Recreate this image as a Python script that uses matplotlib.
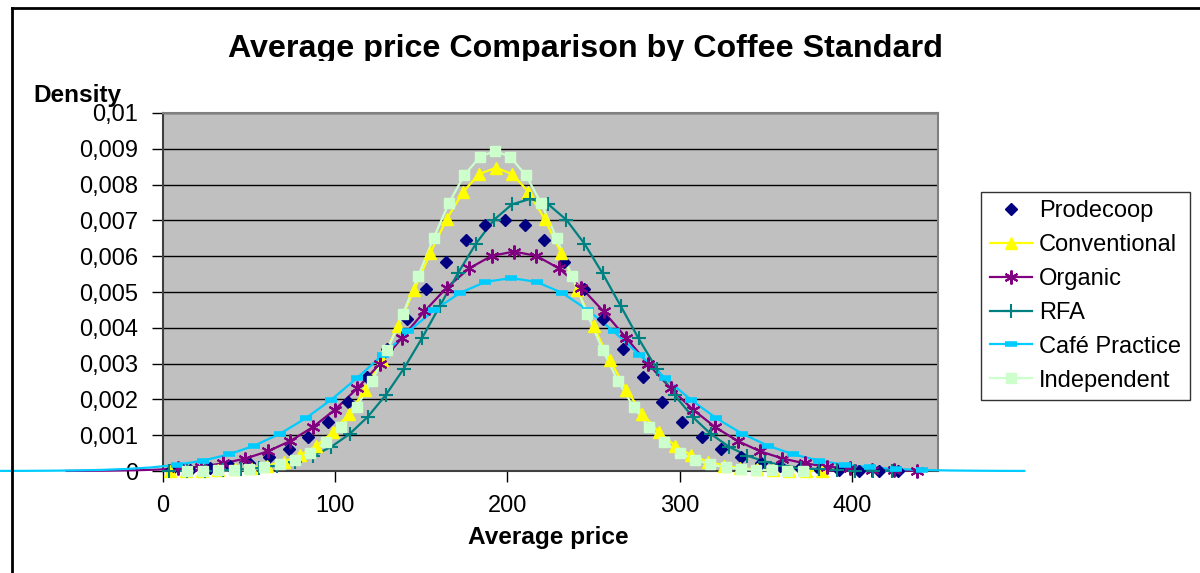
import numpy as np
import matplotlib.pyplot as plt
from matplotlib.lines import Line2D
from matplotlib.patches import Rectangle

plt.rcParams['font.family'] = ['Liberation Sans', 'DejaVu Sans']

TITLE = "Average price Comparison by Coffee Standard"
X_LABEL = "Average price"
Y_LABEL = "Density"

X_TICKS = [0, 100, 200, 300, 400]
Y_TICKS = [0, 0.001, 0.002, 0.003, 0.004, 0.005, 0.006, 0.007, 0.008, 0.009, 0.01]
Y_TICK_LABELS = ["0", "0,001", "0,002", "0,003", "0,004", "0,005",
                 "0,006", "0,007", "0,008", "0,009", "0,01"]

# values (price, density)
prodecoop_x = [4.5, 15.9, 27.3, 38.7, 50.1, 61.6, 73.0, 84.4, 95.8, 107.2, 118.7, 130.1,
               141.5, 152.9, 164.3, 175.8, 187.2, 198.6, 210.0, 221.4, 232.9, 244.3, 255.7,
               267.1, 278.5, 290.0, 301.4, 312.8, 324.2, 335.6, 347.1, 358.5, 369.9, 381.3,
               392.7, 404.2, 415.6, 427.0]
prodecoop_y = [0.000021, 0.000041, 0.000077, 0.000137, 0.000236, 0.000389, 0.000617,
               0.000941, 0.001378, 0.001938, 0.002618, 0.003399, 0.004238, 0.005078,
               0.005844, 0.006460, 0.006861, 0.007000, 0.006861, 0.006460, 0.005844,
               0.005078, 0.004238, 0.003399, 0.002618, 0.001938, 0.001378, 0.000941,
               0.000617, 0.000389, 0.000236, 0.000137, 0.000077, 0.000041, 0.000021,
               0.000011, 0.000005, 0.000002]

conventional_x = [3.8, 13.3, 22.7, 32.2, 41.7, 51.2, 60.6, 70.1, 79.6, 89.0, 98.5, 108.0,
                  117.4, 126.9, 136.4, 145.9, 155.3, 164.8, 174.3, 183.7, 193.2, 202.7,
                  212.1, 221.6, 231.1, 240.6, 250.0, 259.5, 269.0, 278.4, 287.9, 297.4,
                  306.8, 316.3, 325.8, 335.3, 344.7, 354.2, 363.7, 373.1, 382.6]
conventional_y = [0.000002, 0.000005, 0.000011, 0.000022, 0.000044, 0.000083, 0.000151,
                  0.000262, 0.000439, 0.000704, 0.001084, 0.001602, 0.002273, 0.003093,
                  0.004040, 0.005066, 0.006096, 0.007040, 0.007801, 0.008298, 0.008470,
                  0.008298, 0.007801, 0.007040, 0.006096, 0.005066, 0.004040, 0.003093,
                  0.002273, 0.001602, 0.001084, 0.000704, 0.000439, 0.000262, 0.000151,
                  0.000083, 0.000044, 0.000022, 0.000011, 0.000005, 0.000002]

organic_x = [-56.0, -43.0, -30.0, -17.0, -4.0, 8.9, 21.9, 34.9, 47.9, 60.9, 73.9, 86.9,
             99.9, 112.9, 125.9, 138.9, 151.8, 164.8, 177.8, 190.8, 203.8, 216.8, 229.8,
             242.8, 255.8, 268.8, 281.7, 294.7, 307.7, 320.7, 333.7, 346.7, 359.7, 372.7,
             385.7, 398.7, 411.6, 424.6, 437.6]
organic_y = [0.000002, 0.000005, 0.000010, 0.000019, 0.000038, 0.000070, 0.000124,
             0.000212, 0.000349, 0.000551, 0.000837, 0.001223, 0.001715, 0.002312,
             0.002994, 0.003727, 0.004458, 0.005125, 0.005661, 0.006009, 0.006130,
             0.006009, 0.005661, 0.005125, 0.004458, 0.003727, 0.002994, 0.002312,
             0.001715, 0.001223, 0.000837, 0.000551, 0.000349, 0.000212, 0.000124,
             0.000070, 0.000038, 0.000019, 0.000010]

rfa_x = [3.4, 13.9, 24.4, 34.9, 45.4, 55.9, 66.3, 76.8, 87.3, 97.8, 108.3, 118.8, 129.3,
         139.8, 150.3, 160.8, 171.2, 181.7, 192.2, 202.7, 213.2, 223.7, 234.2, 244.7,
         255.2, 265.7, 276.1, 286.6, 297.1, 307.6, 318.1, 328.6, 339.1, 349.6, 360.1,
         370.6, 381.0, 391.5, 402.0, 412.5, 423.0]
rfa_y = [0.000003, 0.000006, 0.000012, 0.000024, 0.000046, 0.000085, 0.000152, 0.000261,
         0.000429, 0.000679, 0.001033, 0.001509, 0.002119, 0.002858, 0.003705, 0.004614,
         0.005522, 0.006351, 0.007017, 0.007450, 0.007600, 0.007450, 0.007017, 0.006351,
         0.005522, 0.004614, 0.003705, 0.002858, 0.002119, 0.001509, 0.001033, 0.000679,
         0.000429, 0.000261, 0.000152, 0.000085, 0.000046, 0.000024, 0.000012, 0.000006,
         0.000003]

cafe_x = [-95.9, -81.0, -66.1, -51.2, -36.3, -21.4, -6.5, 8.4, 23.3, 38.2, 53.1, 68.0,
          82.9, 97.8, 112.7, 127.6, 142.5, 157.4, 172.3, 187.2, 202.1, 217.0, 231.9,
          246.8, 261.7, 276.6, 291.5, 306.4, 321.3, 336.2, 351.1, 366.0, 380.9, 395.8,
          410.7, 425.6, 440.5, 455.4, 470.3, 485.2, 500.1]
cafe_y = [0.000002, 0.000004, 0.000008, 0.000015, 0.000030, 0.000056, 0.000101, 0.000175,
          0.000291, 0.000464, 0.000710, 0.001044, 0.001473, 0.001996, 0.002598, 0.003248,
          0.003897, 0.004491, 0.004970, 0.005282, 0.005390, 0.005282, 0.004970, 0.004491,
          0.003897, 0.003248, 0.002598, 0.001996, 0.001473, 0.001044, 0.000710, 0.000464,
          0.000291, 0.000175, 0.000101, 0.000056, 0.000030, 0.000015, 0.000008, 0.000004,
          0.000002]

independent_x = [14.2, 23.1, 32.1, 41.0, 49.9, 58.9, 67.8, 76.7, 85.6, 94.6, 103.5, 112.4,
                 121.4, 130.3, 139.2, 148.2, 157.1, 166.0, 174.9, 183.9, 192.8, 201.7,
                 210.7, 219.6, 228.5, 237.5, 246.4, 255.3, 264.2, 273.2, 282.1, 291.0,
                 300.0, 308.9, 317.8, 326.8, 335.7, 344.6, 353.5, 362.5, 371.4]
independent_y = [0.000003, 0.000007, 0.000014, 0.000029, 0.000055, 0.000102, 0.000182,
                 0.000312, 0.000512, 0.000809, 0.001227, 0.001790, 0.002508, 0.003379,
                 0.004375, 0.005444, 0.006509, 0.007481, 0.008262, 0.008769, 0.008945,
                 0.008769, 0.008262, 0.007481, 0.006509, 0.005444, 0.004375, 0.003379,
                 0.002508, 0.001790, 0.001227, 0.000809, 0.000512, 0.000312, 0.000182,
                 0.000102, 0.000055, 0.000029, 0.000014, 0.000007, 0.000003]

# label, x, y, colour, marker, marker size, marker edge width, draw line
SERIES = [
    ("Prodecoop",     prodecoop_x,    prodecoop_y,    "#000080", "D",       6.5, 1.0, False),
    ("Conventional",  conventional_x, conventional_y, "#FFFF00", "^",       8.5, 1.0, True),
    ("Organic",       organic_x,      organic_y,      "#800080", (6, 2, 0), 10,  1.5, True),
    ("RFA",           rfa_x,          rfa_y,          "#008080", "+",       10,  1.5, True),
    ("Café Practice", cafe_x,         cafe_y,         "#00CCFF", "_",       9,   4.0, True),
    ("Independent",   independent_x,  independent_y,  "#CCFFCC", "s",       7,   1.0, True),
]

X_MAX = 450
FS = 17

fig = plt.figure(figsize=(12, 5.73), dpi=100)
ax = fig.add_axes([163 / 1200, 1 - 471 / 573, 775 / 1200, 358 / 573])
ax.set_facecolor("#C0C0C0")

handles = []
for label, xs, ys, col, mk, ms, mew, with_line in SERIES:
    xs = np.asarray(xs)
    ys = np.asarray(ys)
    if with_line:
        # excel draws the lines past the plot area, markers only inside it
        ax.plot(xs, ys, color=col, lw=1.6, clip_on=False, zorder=3)
    inside = (xs >= 0) & (xs <= X_MAX)
    ax.plot(xs[inside], ys[inside], linestyle="none", marker=mk, ms=ms, mew=mew,
            color=col, mfc=col, mec=col, clip_on=False, zorder=4)
    handles.append(Line2D([], [], color=col, lw=1.6 if with_line else 0,
                          linestyle="-" if with_line else "none",
                          marker=mk, ms=ms, mew=mew, mfc=col, mec=col))

ax.set_xlim(0, X_MAX)
ax.set_ylim(0, 0.01)
ax.set_xticks(X_TICKS)
ax.set_xticklabels([str(t) for t in X_TICKS])
ax.set_yticks(Y_TICKS)
ax.set_yticklabels(Y_TICK_LABELS)
ax.tick_params(axis="both", direction="out", length=8, width=1, color="black",
               labelsize=FS)
ax.tick_params(axis="y", pad=10)
ax.tick_params(axis="x", pad=9)
ax.grid(axis="y", color="black", lw=1)
ax.set_axisbelow(True)
for side in ("top", "right"):
    ax.spines[side].set_color("#808080")
    ax.spines[side].set_linewidth(1.5)
for side in ("left", "bottom"):
    ax.spines[side].set_color("#404040")
    ax.spines[side].set_linewidth(1.5)

ax.set_xlabel(X_LABEL, fontsize=17.6, fontweight="bold")
ax.xaxis.set_label_coords(0.497, -0.155)

fig.text(33 / 1200, 1 - 102 / 573, Y_LABEL, fontsize=17.6, fontweight="bold",
         ha="left", va="baseline")
fig.text(585 / 1200, 1 - 57 / 573, TITLE, fontsize=23.2, fontweight="bold",
         ha="center", va="baseline")
# the title is cut off just under the baseline in the original
fig.add_artist(Rectangle((200 / 1200, 1 - 78 / 573), 780 / 1200, 17 / 573,
                         transform=fig.transFigure, facecolor="white",
                         edgecolor="none", zorder=10))

# chart area border (only top and left visible)
fig.add_artist(Line2D([12 / 1200, 12 / 1200], [0, 1 - 8 / 573], color="black",
                      lw=2, transform=fig.transFigure))
fig.add_artist(Line2D([12 / 1200, 1], [1 - 8 / 573, 1 - 8 / 573], color="black",
                      lw=2, transform=fig.transFigure))

leg = fig.legend(handles, [s[0] for s in SERIES], loc="upper left",
                 bbox_to_anchor=(981 / 1200, 1 - 192 / 573), frameon=True,
                 fancybox=False, edgecolor="black", fontsize=FS, handlelength=1.8,
                 handletextpad=0.3, labelspacing=0.5, borderpad=0.36,
                 borderaxespad=0, numpoints=1)
leg.get_frame().set_linewidth(1)

fig.savefig("out.png", dpi=100, facecolor="white")
